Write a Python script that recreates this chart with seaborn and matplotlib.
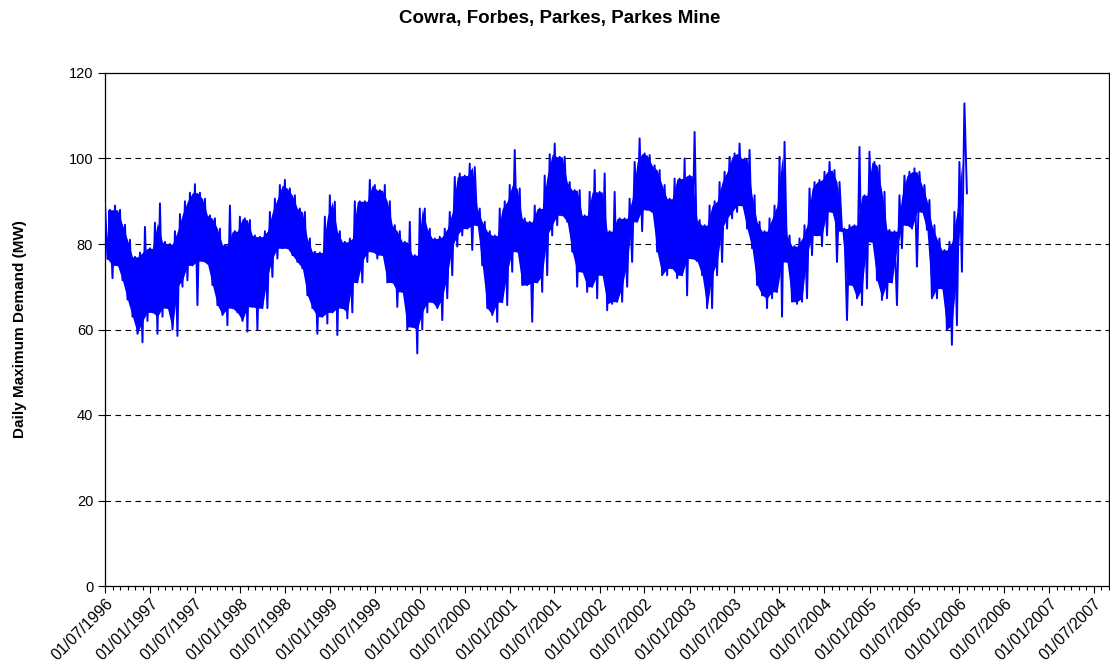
import numpy as np
import pandas as pd
import matplotlib
matplotlib.use("Agg")
import matplotlib.pyplot as plt
import matplotlib.dates as mdates
import seaborn as sns

# ---- data ----
title = "Cowra, Forbes, Parkes, Parkes Mine"
y_label = "Daily Maximum Demand (MW)"
start_date = "1996-07-01"
step_days = 10.15  # spacing between successive read-off points

# upper envelope (peaks) and lower envelope (troughs), one pair per ~20 days
peaks = [
    89.5, 88, 89, 88, 84.5, 81, 77, 78, 84, 79, 85, 89.5, 80.5, 80, 83, 87,
    90, 92, 94, 92, 90.6, 86.7, 86, 83.6, 79.8, 89, 83, 86.4, 86, 85.6, 82, 81.7,
    83, 87.5, 90.6, 93.8, 95, 93, 91.4, 88.3, 87.5, 81.3, 78.2, 78, 86.4, 91.4, 89.9, 83,
    80.5, 81.3, 90, 90, 90, 95, 93.8, 92.6, 93.8, 90, 84.4, 83, 80.5, 85.2, 77.4, 88.3,
    88.3, 83.6, 81.3, 81.7, 83.6, 87.5, 95.7, 96.5, 96, 98.8, 98, 88.3, 85.2, 83, 82, 88.3,
    90, 93.8, 102, 93, 86, 85.2, 89, 88.3, 96, 101, 103.5, 100.4, 100.4, 94.5, 92.6, 92.6,
    86.7, 92.2, 97.3, 92.2, 96.5, 83, 92.2, 86, 86, 90.6, 99.2, 104.7, 101.2, 100.8, 98.4, 97.3,
    93.8, 90.6, 95.3, 95.3, 100, 96, 106.2, 85.6, 84.4, 89, 90, 94.5, 96.9, 100.4, 101.2, 103.5,
    100, 102, 91.4, 85.2, 83, 86, 89, 100.4, 103.9, 82, 79.5, 81.3, 84.4, 93, 94.5, 95,
    96.9, 99.2, 97.3, 94.5, 83.6, 84.4, 84.4, 102.7, 91.4, 101.6, 99.2, 98.4, 92.2, 83.3, 83, 91.4,
    96, 96.9, 97.7, 96.9, 93.8, 90.3, 84.4, 81.3, 78.6, 80.5, 87.5, 99.2, 112.9,
]
troughs = [
    76.5, 72, 75, 71.5, 67, 63, 59, 57, 62, 64, 59, 63, 65, 60, 58.5, 70,
    71.5, 75, 65.7, 76, 75.4, 70.4, 65.7, 63.4, 61, 65, 64, 62, 59.5, 65.3, 60, 65,
    65, 72.3, 76.6, 79, 79, 77.4, 75.8, 74.3, 68, 65, 59, 63, 61.4, 64, 58.7, 65,
    62.6, 64, 71, 71, 75.8, 78.2, 76.6, 77.4, 71, 71, 65.3, 68.8, 60, 60.6, 54.4, 60,
    64, 66.4, 65, 62.2, 67.3, 72.7, 79.4, 82, 83.6, 78.6, 84.4, 75, 65, 63.4, 61.8, 66.4,
    65.7, 73.5, 78.2, 70.4, 70.4, 61.8, 71, 68.8, 72.7, 82, 84.4, 86.7, 85.2, 78.2, 70, 73.5,
    68.8, 70, 67.3, 72.7, 64.5, 66, 66.5, 66.5, 70, 75.8, 85.2, 83, 88, 87.5, 78.2, 72.7,
    72.7, 74.3, 72, 72.7, 68, 76.6, 76, 72.7, 65, 65, 72.7, 75.8, 83.6, 86, 87.5, 89,
    83.6, 79, 70.4, 68, 65, 67.3, 68.8, 63, 75.8, 66.5, 66, 66.5, 67.3, 77.4, 82, 79.5,
    82, 87.5, 75.8, 83, 62.2, 70.4, 67.3, 65.7, 69.6, 80.5, 71.5, 66.9, 67.3, 71, 65.7, 79,
    84.4, 83.6, 74.7, 87.5, 83.3, 67.3, 67.3, 69.6, 60, 56.4, 61, 73.5, 91.8,
]
y_ticks = [0, 20, 40, 60, 80, 100, 120]
x_start, x_end = "1996-07-01", "2007-09-01"

# ---- build the series ----
values = []
for hi, lo in zip(peaks, troughs):
    values.extend([hi, lo])
dates = pd.Timestamp(start_date) + pd.to_timedelta(np.arange(len(values)) * step_days, unit="D")
df = pd.DataFrame({"date": dates, "demand": values})

# solid core of the band: between the lower of neighbouring peaks and higher of neighbouring troughs
pk = np.array(peaks, dtype=float)
tr = np.array(troughs, dtype=float)
core_top = np.minimum(pk, np.r_[pk[1:], pk[-1]])
core_bot = np.maximum(tr, np.r_[tr[1:], tr[-1]])
core_bot = np.minimum(core_bot, core_top)
band_dates = dates[0::2] + pd.to_timedelta(step_days, unit="D")

sns.set_style("white")
plt.rcParams["font.family"] = ["Liberation Sans", "DejaVu Sans"]
plt.rcParams["text.color"] = "black"
plt.rcParams["axes.labelcolor"] = "black"
plt.rcParams["xtick.color"] = "black"
plt.rcParams["ytick.color"] = "black"

fig = plt.figure(figsize=(11.10, 6.71), dpi=100)
ax = fig.add_axes([105 / 1110, 1 - 586 / 671, 1004 / 1110, (586 - 73) / 671])

ax.fill_between(band_dates[:-1], core_bot[:-1], core_top[:-1], color="#0000FF",
                linewidth=0, zorder=2)
sns.lineplot(data=df, x="date", y="demand", color="#0000FF", linewidth=1.4, ax=ax, zorder=3)

ax.set_ylim(0, 120)
ax.set_yticks(y_ticks)
ax.set_xlim(pd.Timestamp(x_start), pd.Timestamp(x_end))

for v in y_ticks[1:-1]:
    ax.axhline(v, color="black", linewidth=0.8, linestyle=(0, (5, 4)), zorder=0)

ax.xaxis.set_major_locator(mdates.MonthLocator(bymonth=[1, 7], bymonthday=1))
ax.xaxis.set_minor_locator(mdates.MonthLocator(bymonthday=1))
ax.xaxis.set_major_formatter(mdates.DateFormatter("%d/%m/%Y"))

ax.tick_params(axis="x", which="major", direction="out", length=5, width=0.8,
               labelsize=11.5, pad=2, bottom=True, colors="black")
ax.tick_params(axis="x", which="minor", direction="out", length=3, width=0.8, bottom=True)
ax.tick_params(axis="y", direction="out", length=5, width=0.8, labelsize=10.5, left=True,
               colors="black")
for lab in ax.get_xticklabels():
    lab.set_rotation(45)
    lab.set_ha("right")
    lab.set_rotation_mode("anchor")

for s in ax.spines.values():
    s.set_color("black")
    s.set_linewidth(0.9)
    s.set_visible(True)

ax.set_xlabel("")
ax.set_ylabel(y_label, fontsize=11, fontweight="bold", labelpad=30, color="black")
fig.text(560 / 1110, 1 - 18 / 671, title, ha="center", va="center", fontsize=13.5,
         fontweight="bold", color="black")

fig.savefig("out.png", dpi=100)
